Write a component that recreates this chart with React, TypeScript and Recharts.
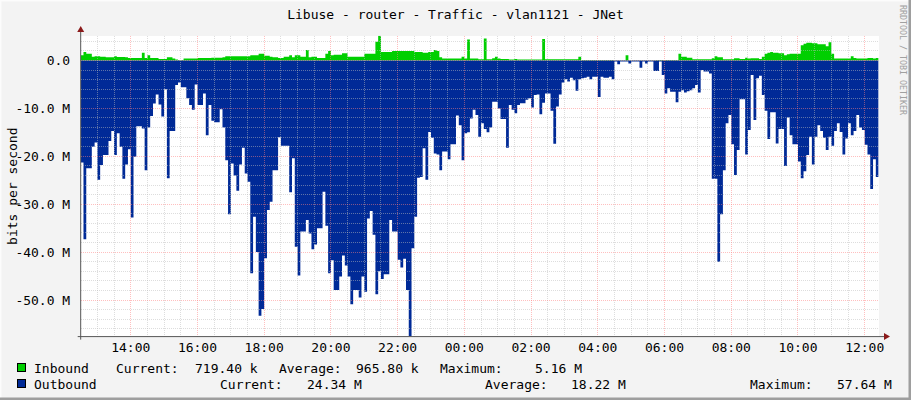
import { AreaChart, Area, XAxis, YAxis, ReferenceLine } from "recharts";

const TITLE = "Libuse - router - Traffic - vlan1121 - JNet";
const Y_LABEL = "bits per second";
const WATERMARK = "RRDTOOL / TOBI OETIKER";

// 5 minute samples, the first one at 12:30
const startHour = 12.5;
const stepMinutes = 5;

// Mbit/s
const inbound = [
  1.1, 1.8, 1.4, 1.4, 0.8, 0.9, 0.9, 0.8, 0.8, 0.7,
  0.7, 0.7, 0.9, 0.75, 0.75, 0.75, 0.7, 0.5, 0.5, 0.5,
  0.5, 0.5, 1.6, 0.5, 1.1, 0.5, 0.5, 0.5, 0.3, 0.3,
  0.3, 0.7, 0.7, 0.4, 0.2, 0.1, 0.1, 0.4, 0.4, 0.4,
  0.4, 0.4, 0.5, 0.5, 0.5, 0.5, 0.5, 0.6, 0.6, 0.6,
  0.6, 0.7, 0.9, 0.9, 0.9, 0.9, 0.9, 0.9, 0.9, 0.9,
  0.9, 1.1, 1.1, 1.1, 1.4, 1.4, 1.0, 1.0, 0.8, 0.7,
  0.7, 0.5, 0.5, 0.8, 0.8, 1.1, 0.7, 1.1, 1.1, 0.8,
  0.8, 2.2, 0.7, 0.8, 0.8, 0.5, 0.5, 0.5, 1.4, 2.0,
  1.1, 1.2, 1.2, 1.2, 1.5, 1.5, 0.8, 0.8, 0.8, 0.8,
  0.8, 0.8, 1.4, 1.4, 1.4, 1.4, 3.9, 5.16, 1.8, 1.8,
  1.8, 1.8, 2.0, 2.0, 2.0, 2.0, 2.0, 2.0, 2.0, 2.0,
  1.8, 1.8, 1.8, 1.6, 1.6, 1.8, 1.8, 2.2, 2.0, 0.7,
  0.4, 0.4, 0.4, 0.4, 0.4, 0.4, 0.4, 0.8, 0.4, 4.4,
  0.4, 0.4, 0.4,
  0.25, 0.25, 4.6, 0.25, 0.25, 0.45, 0.8, 0.4, 0.3, 0.3,
  0.3, 0.2, 0.2, 0.3, 0.2, 0.2, 0.2, 0.2, 0.2, 0.2,
  0.2, 0.2, 0.2, 4.5, 0.25, 0.25, 0.25, 0.25, 0.25, 0.25,
  0.25, 0.25, 0.25, 0.25, 0.25, 0.25, 0.8, 0.1, 0.1, 0.1,
  0.1, 0.1, 0.1, 0.1, 0.1, 0.1, 0.1, 0.1, 0.1, 0.05,
  0.05, 0.05, 0.05, 1.1, 0.05, 0.05, 0.05, 0.05, 0.05, 0.05,
  0.05, 0.05, 0.05, 0.05, 0.1, 0.1, 0.1, 0.1, 0.1, 0.1,
  0.1, 0.1, 1.4, 0.8, 0.8, 0.6, 0.6, 0.25, 0.25, 0.25,
  0.25, 0.25, 0.25, 0.25, 0.45, 0.9, 0.7, 0.7, 0.25, 0.25,
  0.25, 0.25, 0.45, 0.45, 0.3, 0.3, 0.6, 0.4, 0.45, 0.45,
  0.45, 0.3, 0.8, 1.4, 1.6, 1.8, 1.6, 1.6, 1.5, 1.5,
  1.1, 1.3, 1.4, 1.4, 1.4, 1.4, 3.2, 3.5, 3.7, 3.7,
  3.6, 3.6, 3.4, 3.4, 3.4, 3.0, 3.8, 1.4, 0.4, 0.4,
  0.4, 0.4, 0.4, 0.4, 0.9, 0.5, 0.4, 0.4, 0.4, 0.4,
  0.5, 0.5, 0.4, 0.5,
];

// Mbit/s, drawn below zero
const outbound = [
  21.3, 37.3, 22.5, 22.5, 18, 17.1, 24.9, 21.8, 19.7, 19.7,
  16.8, 14.7, 19.7, 15.2, 18, 24.7, 21.7, 18.5, 32.8, 20.1,
  13.7, 13.7, 14.2, 22.9, 14, 11.6, 9, 7.1, 9.2, 11.7,
  6, 24.6, 14.7, 14.7, 5.1, 4.6, 5.6, 5.6, 7.9, 9.3,
  10.3, 5, 9.3, 9.3, 6.9, 15.6, 9.3, 12.6, 12.9, 12.9,
  10.2, 14, 20.8, 32.1, 21.5, 24, 27.2, 21.7, 18.2, 23.6,
  25.3, 44.4, 32.6, 40, 53.3, 51.9, 41.3, 31.2, 29.5, 22.9,
  22.9,
  16, 17.8, 17.8, 17.8, 27.5, 20.4, 38.9, 44.9, 35.7, 35.7,
  33.3, 36.1, 39.4, 38.4, 35, 35, 27.4, 34.5, 44.4, 41.7,
  47.9, 47.9, 45.1, 40.7, 42.8, 45.1, 50.9, 47.9, 47.9, 49.5,
  45.1, 48.3, 33, 31.4, 36.4, 48.8, 44, 45.6, 44.6, 44.6,
  33.3, 35.7, 35.7, 41.6, 43.2, 41.4, 47.9, 57.64, 39.2, 32.6,
  24.5, 24.3, 18.3, 24.9, 14.9, 16.1, 19.4, 19.6, 22.9, 19,
  19, 20.6, 17.5, 17.5, 11.5, 13.5, 20.8, 15.2, 15, 12.1,
  10.3, 11.4,
  15.9, 13.1, 14.3, 15, 14, 8.6, 8.6, 10, 12.2, 12.2,
  18.2, 9.3, 10.3, 11, 9.3, 8.9, 8.9, 8.2, 7.9, 9.8,
  7.2, 7.1, 11.2, 8.8, 6.9, 6.9, 10.5, 17.4, 9.6, 7.1,
  4.6, 3.9, 4.4, 3.6, 4.1, 6.3, 3.9, 3.7, 3.6, 3.4,
  3.9, 3.4, 3.4, 7.6, 3.4, 3.6, 3.6, 3.4, 3.9, 0.2,
  0.8, 0.2, 0.2, 0.2, 0.6, 0.2, 0.2, 0.2, 1.5, 0.2,
  0.6, 0.2, 0.2, 2.2, 2.2, 0.2, 3, 6.9, 5.8, 6.5,
  6.5, 8.7,
  6.5, 6.2, 6.7, 6.4, 6.2, 5.8, 5.1, 6.7, 2, 2.3,
  2.3, 2.7, 24.7, 24.7, 42, 32.1, 22.9, 13.1, 11.4, 17.5,
  23.9, 18.7, 8.1, 8.1, 19.6, 14.5, 3, 12.4, 3.7, 3.2,
  7.2, 10.5, 16.4, 10.8, 10.8, 17.3, 14.3, 14.3, 22, 11.9,
  15.6, 17.5, 17.5, 21.1, 24.6, 23.1, 19.7, 15.9, 21.7, 15.9,
  13.5, 14.7, 16.1, 18.7, 15.9, 17.8, 14.7, 13.1, 14.9, 19.6,
  16.3, 13.1, 15.6, 14.7, 11.4, 14, 14.5, 17.6, 19.6, 26.8,
  20.6, 24.3,
];

const xTicks = [14, 16, 18, 20, 22, 24, 26, 28, 30, 32, 34, 36];
const yTicks = [-50, -40, -30, -20, -10, 0];
const yMin = -57.64;
const yMax = 5.16;

const seriesNames = ["Inbound", "Outbound"];
const currentValues = ["719.40 k", "24.34 M"];
const averageValues = ["965.80 k", "18.22 M"];
const maximumValues = ["5.16 M", "57.64 M"];

const endHour = startHour + (inbound.length * stepMinutes) / 60;

const data = inbound.map((v, i) => ({
  t: startHour + (i * stepMinutes) / 60,
  inbound: v,
  outbound: -outbound[i],
}));
data.push({
  t: endHour,
  inbound: inbound[inbound.length - 1],
  outbound: -outbound[outbound.length - 1],
});

// grid steps
const minorY: number[] = [];
for (let v = -56; v <= 4; v += 2) if (v % 10 !== 0) minorY.push(v);
const minorX: number[] = [];
for (let h = 13; h < endHour; h += 0.5) if (h % 2 !== 0) minorX.push(h);

const W = 911;
const H = 400;
const PLOT_LEFT = 80.7;
const PLOT_RIGHT = 878.6;
const PLOT_TOP = 35.8;
const PLOT_BOTTOM = 336.6;
const YAXIS_W = 70;
const XAXIS_H = 20;

const FONT = "'DejaVu Sans Mono', monospace";
const IN_COLOR = "#00CF00";
const OUT_COLOR = "#002A97";
const ARROW = "#8B1A1A";
const AXIS = "#555555";

const fmtHour = (h: number) => `${String(h % 24).padStart(2, "0")}:00`;
const fmtY = (v: number) => (v === 0 ? "0.0" : `${v.toFixed(1)} M`);

const XTick = (props: any) => {
  const { x, y, payload } = props;
  return (
    <text x={x} y={y + 15} textAnchor="middle" fontFamily={FONT} fontSize={13} fill="#000">
      {fmtHour(payload.value)}
    </text>
  );
};

const YTick = (props: any) => {
  const { x, y, payload } = props;
  return (
    <text x={x - 10.5} y={y + 4.5} textAnchor="end" fontFamily={FONT} fontSize={13} fill="#000">
      {fmtY(payload.value)}
    </text>
  );
};

// x positions of legend pieces: name, label, value, label, value, label, value
const legendCols = [
  [34, 116, 195, 279, 356, 440, 535],
  [34, 220, 307, 485, 571, 750, 837],
];

export default function App() {
  const colors = [IN_COLOR, OUT_COLOR];
  return (
    <div
      style={{
        position: "absolute",
        left: 0,
        top: 0,
        width: W,
        height: H,
        background: "#f3f3f3",
        overflow: "hidden",
      }}
    >
      <div
        style={{
          position: "absolute",
          left: PLOT_LEFT,
          top: PLOT_TOP,
          width: PLOT_RIGHT - PLOT_LEFT,
          height: PLOT_BOTTOM - PLOT_TOP,
          background: "#fff",
        }}
      />
      <div style={{ position: "absolute", left: 0, top: 0 }}>
        <AreaChart
          width={W}
          height={H}
          data={data}
          margin={{
            top: PLOT_TOP,
            right: W - PLOT_RIGHT,
            bottom: H - PLOT_BOTTOM - XAXIS_H,
            left: PLOT_LEFT - YAXIS_W,
          }}
        >
          <XAxis
            dataKey="t"
            type="number"
            domain={[startHour, endHour]}
            ticks={xTicks}
            interval={0}
            allowDataOverflow
            axisLine={false}
            tickLine={false}
            tickSize={0}
            tickMargin={0}
            height={XAXIS_H}
            tick={<XTick />}
          />
          <YAxis
            type="number"
            domain={[yMin, yMax]}
            ticks={yTicks}
            interval={0}
            allowDataOverflow
            axisLine={false}
            tickLine={false}
            tickSize={0}
            tickMargin={0}
            width={YAXIS_W}
            tick={<YTick />}
          />
          <Area
            dataKey="inbound"
            type="stepAfter"
            baseValue={0}
            stroke="none"
            fill={IN_COLOR}
            fillOpacity={1}
            dot={false}
            activeDot={false}
            isAnimationActive={false}
          />
          <Area
            dataKey="outbound"
            type="stepAfter"
            baseValue={0}
            stroke="none"
            fill={OUT_COLOR}
            fillOpacity={1}
            dot={false}
            activeDot={false}
            isAnimationActive={false}
          />
          {minorY.map((v) => (
            <ReferenceLine
              key={`my${v}`}
              y={v}
              stroke="#bcbcbc"
              strokeOpacity={0.5}
              strokeDasharray="1 1"
              shapeRendering="crispEdges"
            />
          ))}
          {minorX.map((h) => (
            <ReferenceLine
              key={`mx${h}`}
              x={h}
              stroke="#bcbcbc"
              strokeOpacity={0.5}
              strokeDasharray="1 1"
              shapeRendering="crispEdges"
            />
          ))}
          {yTicks.map((v) => (
            <ReferenceLine
              key={`My${v}`}
              y={v}
              stroke="#ff8080"
              strokeOpacity={0.5}
              strokeDasharray="1 1"
              shapeRendering="crispEdges"
            />
          ))}
          {xTicks.map((h) => (
            <ReferenceLine
              key={`Mx${h}`}
              x={h}
              stroke="#ff8080"
              strokeOpacity={0.5}
              strokeDasharray="1 1"
              shapeRendering="crispEdges"
            />
          ))}
        </AreaChart>
      </div>
      <svg
        width={W}
        height={H}
        style={{ position: "absolute", left: 0, top: 0, pointerEvents: "none" }}
      >
        {/* frame shade */}
        <rect x={0} y={0} width={W} height={1.5} fill="#fcfcfc" />
        <rect x={0} y={0} width={1.5} height={H} fill="#fcfcfc" />
        <rect x={W - 2.5} y={0} width={2.5} height={H} fill="#9e9e9e" />
        <rect x={0} y={H - 2.5} width={W} height={2.5} fill="#9e9e9e" />

        <text x={455.5} y={18.5} textAnchor="middle" fontFamily={FONT} fontSize={13} fill="#000">
          {TITLE}
        </text>
        <text
          transform={`translate(16.5, ${(PLOT_TOP + PLOT_BOTTOM) / 2}) rotate(-90)`}
          textAnchor="middle"
          fontFamily={FONT}
          fontSize={13}
          fill="#000"
        >
          {Y_LABEL}
        </text>
        <text
          transform="translate(899.5, 60) rotate(90)"
          textAnchor="middle"
          fontFamily={FONT}
          fontSize={8.3}
          fill="#a0a0a0"
        >
          {WATERMARK}
        </text>

        {/* axes */}
        <line x1={PLOT_LEFT - 3} y1={PLOT_BOTTOM} x2={885} y2={PLOT_BOTTOM} stroke={AXIS} strokeWidth={1} />
        <line x1={PLOT_LEFT} y1={PLOT_BOTTOM + 3} x2={PLOT_LEFT} y2={31} stroke={AXIS} strokeWidth={1} />
        <path d={`M884,${PLOT_BOTTOM - 3.5} L890,${PLOT_BOTTOM} L884,${PLOT_BOTTOM + 3.5} Z`} fill={ARROW} />
        <path d={`M${PLOT_LEFT - 3.5},32 L${PLOT_LEFT},26 L${PLOT_LEFT + 3.5},32 Z`} fill={ARROW} />

        {/* legend */}
        {seriesNames.map((name, r) => {
          const base = 372.5 + r * 16;
          const cols = legendCols[r];
          const parts = [
            name,
            "Current:",
            currentValues[r],
            "Average:",
            averageValues[r],
            "Maximum:",
            maximumValues[r],
          ];
          return (
            <g key={name}>
              <rect x={17.5} y={base - 9} width={8} height={8} fill={colors[r]} stroke="#000" strokeWidth={1} />
              {parts.map((p, j) => (
                <text key={j} x={cols[j]} y={base} fontFamily={FONT} fontSize={13} fill="#000">
                  {p}
                </text>
              ))}
            </g>
          );
        })}
      </svg>
    </div>
  );
}
